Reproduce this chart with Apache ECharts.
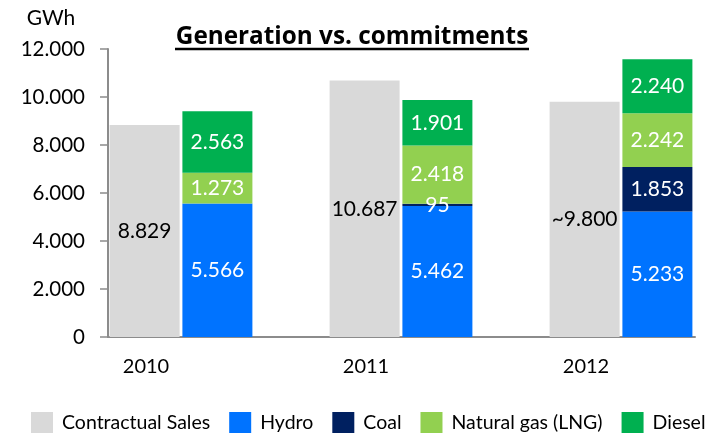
<!DOCTYPE html>
<html>
<head>
<meta charset="utf-8">
<script src="https://cdn.jsdelivr.net/npm/echarts@6/dist/echarts.min.js"></script>
<style>
    html, body { margin: 0; padding: 0; background: #fff; }
    #chart { width: 710px; height: 433px; }
</style>
</head>
<body>
<div id="chart"></div>
<script>
    const years = ['2010', '2011', '2012'];
    const contractualSales = [8829, 10687, 9800];
    const contractualEstimated = [false, false, true];
    const hydro = [5566, 5462, 5233];
    const coal = [null, 95, 1853];
    const naturalGas = [1273, 2418, 2242];
    const diesel = [2563, 1901, 2240];

    const FONT = 'Lato';

    // 10687 -> "10.687"
    function fmt(v) {
        if (v < 1000) return String(v);
        return Math.floor(v / 1000) + '.' + String(v % 1000).padStart(3, '0');
    }

    const chart = echarts.init(document.getElementById('chart'));

    const stackLabel = {
        show: true,
        position: 'inside',
        color: '#fff',
        fontFamily: FONT,
        fontSize: 21,
        formatter: p => fmt(p.value)
    };

    function stackSeries(name, data, color) {
        return {
            name: name,
            type: 'bar',
            stack: 'gen',
            barWidth: 70,
            barGap: '4%',
            itemStyle: { color: color },
            label: stackLabel,
            data: data
        };
    }

    const option = {
        animation: false,
        color: ['#D9D9D9', '#0073FF', '#002060', '#92D050', '#00B050'],
        graphic: [
            {
                type: 'text',
                x: 352, y: 37,
                style: {
                    text: 'Generation vs. commitments',
                    fontFamily: 'Open Sans', fontSize: 24.3, fontWeight: 'bold',
                    fill: '#000', align: 'center', verticalAlign: 'middle'
                }
            },
            {
                type: 'line',
                shape: { x1: 175, y1: 49, x2: 529, y2: 49 },
                style: { stroke: '#000', lineWidth: 2.5 }
            }
        ],
        legend: {
            left: 31,
            top: 412,
            padding: 0,
            itemWidth: 22,
            itemHeight: 22,
            itemGap: 19,
            icon: 'rect',
            textStyle: { fontFamily: FONT, fontSize: 19.5, color: '#000', padding: [0, 0, 0, 4] },
            data: ['Contractual Sales', 'Hydro', 'Coal', 'Natural gas (LNG)', 'Diesel']
        },
        grid: [
            { left: 71, top: 49, width: 660, height: 288, containLabel: false, outerBoundsMode: 'none' },
            { left: 108, top: 49, width: 587, height: 288, containLabel: false, outerBoundsMode: 'none' }
        ],
        xAxis: [
            {
                type: 'category',
                data: years,
                axisLine: { show: false },
                axisTick: { show: false },
                axisLabel: {
                    fontFamily: FONT, fontSize: 20, color: '#000',
                    margin: 20, padding: [0, 70, 0, 0]
                }
            },
            {
                type: 'value',
                gridIndex: 1,
                min: 0, max: 1,
                axisLine: { show: true, lineStyle: { color: '#8C8C8C', width: 2 } },
                axisTick: { show: false },
                axisLabel: { show: false },
                splitLine: { show: false }
            }
        ],
        yAxis: [
            {
                type: 'value',
                min: 0, max: 12000, interval: 2000,
                offset: -37,
                name: 'GWh',
                nameLocation: 'end',
                nameGap: 20,
                nameTextStyle: { fontFamily: FONT, fontSize: 21, color: '#000', padding: [0, 114, 0, 0] },
                axisLine: { show: true, lineStyle: { color: '#8C8C8C', width: 2 } },
                axisTick: { show: true, length: 8, lineStyle: { color: '#8C8C8C', width: 1.5 } },
                axisLabel: { fontFamily: FONT, fontSize: 20.5, color: '#000', margin: 23, formatter: v => fmt(v) },
                splitLine: { show: false }
            },
            {
                type: 'value',
                gridIndex: 1,
                min: 0, max: 1,
                show: false
            }
        ],
        series: [
            {
                name: 'Contractual Sales',
                type: 'bar',
                barWidth: 70,
                barGap: '4%',
                label: {
                    show: true,
                    position: 'inside',
                    color: '#000',
                    fontFamily: FONT,
                    fontSize: 21,
                    formatter: p => (contractualEstimated[p.dataIndex] ? '~' : '') + fmt(p.value)
                },
                data: contractualSales
            },
            stackSeries('Hydro', hydro, '#0073FF'),
            stackSeries('Coal', coal, '#002060'),
            stackSeries('Natural gas (LNG)', naturalGas, '#92D050'),
            stackSeries('Diesel', diesel, '#00B050')
        ]
    };

    chart.setOption(option);
</script>
</body>
</html>
